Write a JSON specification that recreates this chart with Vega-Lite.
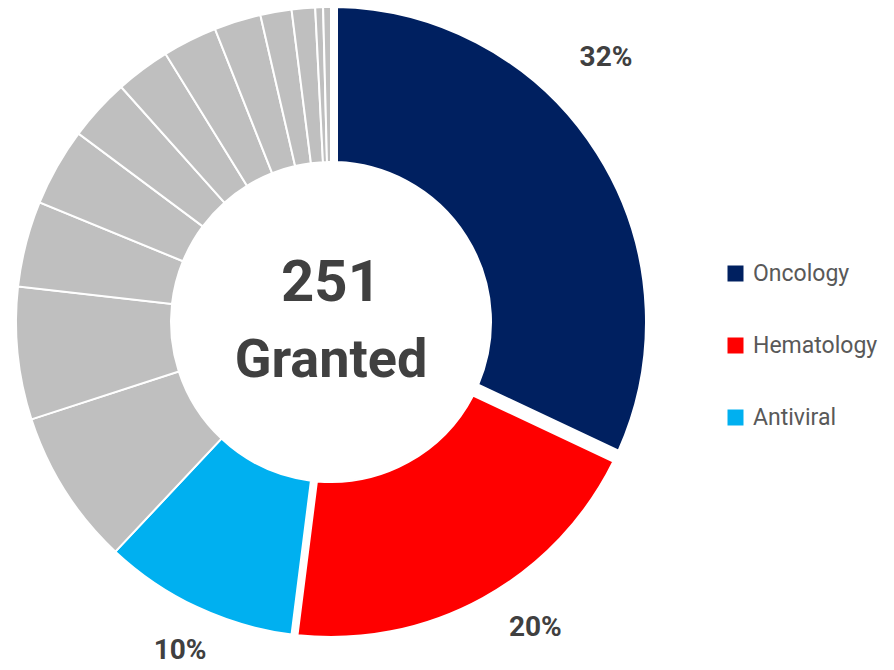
{
  "$schema": "https://vega.github.io/schema/vega-lite/v6.json",
  "width": 662,
  "height": 644,
  "autosize": {"type": "none"},
  "padding": {"left": 0, "top": 0, "right": 232, "bottom": 26},
  "background": "white",
  "config": {
    "view": {"stroke": null},
    "font": "Roboto, Liberation Sans, sans-serif"
  },
  "datasets": {
    "slices": [
      {"rank": 1, "name": "Oncology", "group": "Oncology", "count": 80, "label": "32%"},
      {"rank": 2, "name": "Hematology", "group": "Hematology", "count": 50, "label": "20%"},
      {"rank": 3, "name": "Antiviral", "group": "Antiviral", "count": 25, "label": "10%"},
      {"rank": 4, "name": "Other 1", "group": "Other", "count": 20, "label": ""},
      {"rank": 5, "name": "Other 2", "group": "Other", "count": 17, "label": ""},
      {"rank": 6, "name": "Other 3", "group": "Other", "count": 11, "label": ""},
      {"rank": 7, "name": "Other 4", "group": "Other", "count": 10, "label": ""},
      {"rank": 8, "name": "Other 5", "group": "Other", "count": 8, "label": ""},
      {"rank": 9, "name": "Other 6", "group": "Other", "count": 7, "label": ""},
      {"rank": 10, "name": "Other 7", "group": "Other", "count": 7, "label": ""},
      {"rank": 11, "name": "Other 8", "group": "Other", "count": 6, "label": ""},
      {"rank": 12, "name": "Other 9", "group": "Other", "count": 4, "label": ""},
      {"rank": 13, "name": "Other 10", "group": "Other", "count": 3, "label": ""},
      {"rank": 14, "name": "Other 11", "group": "Other", "count": 1, "label": ""},
      {"rank": 15, "name": "Other 12", "group": "Other", "count": 1, "label": ""}
    ],
    "center": [{"total": 251, "word": "Granted"}]
  },
  "layer": [
    {
      "data": {"name": "slices"},
      "mark": {"type": "arc", "radius": 315, "radius2": 160, "stroke": "white", "strokeWidth": 2,
               "padAngle": {"expr": "datum.group === 'Oncology' || datum.group === 'Hematology' ? 0.034 : 0"}},
      "encoding": {
        "theta": {"field": "count", "type": "quantitative", "stack": true},
        "order": {"field": "rank", "type": "quantitative"},
        "detail": {"field": "name"},
        "color": {
          "field": "group", "type": "nominal",
          "scale": {"domain": ["Oncology", "Hematology", "Antiviral", "Other"], "range": ["#002060", "#FF0000", "#00B0F0", "#BFBFBF"]},
          "legend": {
            "values": ["Oncology", "Hematology", "Antiviral"],
            "title": null,
            "orient": "none",
            "legendX": 724,
            "legendY": 262,
            "symbolType": "square",
            "symbolSize": 256,
            "symbolStrokeWidth": 0,
            "symbolOpacity": 1,
            "labelFont": "Roboto",
            "labelFontSize": 23,
            "labelColor": "#595959",
            "labelOffset": 6,
            "rowPadding": 48
          }
        }
      }
    },
    {
      "data": {"name": "slices"},
      "mark": {"type": "text", "fontSize": 28, "fontWeight": "bold", "color": "#404040", "font": "Roboto",
               "radius": {"expr": "datum.group === 'Oncology' ? 381 : datum.group === 'Hematology' ? 368 : 362"},
               "thetaOffset": {"expr": "datum.group === 'Oncology' ? -0.199 : datum.group === 'Hematology' ? -0.086 : -0.01"}},
      "encoding": {
        "theta": {"field": "count", "type": "quantitative", "stack": true},
        "order": {"field": "rank", "type": "quantitative"},
        "detail": {"field": "name"},
        "text": {"field": "label"}
      }
    },
    {
      "data": {"name": "center"},
      "mark": {"type": "text", "fontSize": 58, "fontWeight": "bold", "color": "#404040", "font": "Roboto", "baseline": "middle", "dy": -38},
      "encoding": {"text": {"field": "total"}}
    },
    {
      "data": {"name": "center"},
      "mark": {"type": "text", "fontSize": 54, "fontWeight": "bold", "color": "#404040", "font": "Roboto", "baseline": "middle", "dy": 39},
      "encoding": {"text": {"field": "word"}}
    }
  ]
}
